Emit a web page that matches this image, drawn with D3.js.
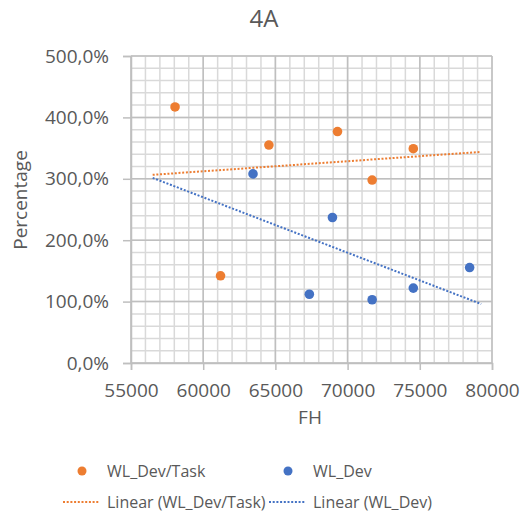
<!DOCTYPE html>
<html lang="en">
<head>
    <meta charset="UTF-8">
    <script src="https://d3js.org/d3.v7.min.js"></script>
    <title>4A</title>
    <style>
        body { margin: 0; background: #fff; }
        svg { display: block; font-family: "Open Sans", sans-serif; }
    </style>
</head>
<body>
    <svg id="chart" width="520" height="513"></svg>
    <script>
        // data
        const devTaskFH = [58050, 61200, 64550, 69300, 71700, 74550];
        const devTaskPct = [4.17, 1.42, 3.55, 3.77, 2.98, 3.49];
        const devFH = [63450, 68950, 67350, 71700, 74550, 78450];
        const devPct = [3.08, 2.37, 1.12, 1.03, 1.22, 1.555];
        const xTicks = [55000, 60000, 65000, 70000, 75000, 80000];
        const yTicks = [0, 1, 2, 3, 4, 5];
        const trendRange = [56500, 79250];
        const seriesNames = ["WL_Dev/Task", "WL_Dev"];

        const orange = "#ED7D31";
        const blue = "#4472C4";
        const textColor = "#595959";

        const svg = d3.select("#chart");
        const plotL = 131, plotR = 492, plotT = 56, plotB = 363;

        const x = d3.scaleLinear().domain([55000, 80000]).range([plotL, plotR]);
        const y = d3.scaleLinear().domain([0, 5]).range([plotB, plotT]);

        const locale = d3.formatLocale({ decimal: ",", thousands: ".", grouping: [3], currency: ["", "€"] });
        const pctFmt = locale.format(".1%");

        // minor grid
        const g = svg.append("g");
        g.selectAll(".vminor").data(d3.range(55000, 80001, 1000)).join("line")
            .attr("x1", d => x(d)).attr("x2", d => x(d))
            .attr("y1", plotT).attr("y2", plotB)
            .attr("stroke", "#d9d9d9").attr("stroke-width", 1.5);
        g.selectAll(".hminor").data(d3.range(0, 26).map(i => i * 0.2)).join("line")
            .attr("x1", plotL).attr("x2", plotR)
            .attr("y1", d => y(d)).attr("y2", d => y(d))
            .attr("stroke", "#d9d9d9").attr("stroke-width", 1.5);
        // major grid
        g.selectAll(".vmajor").data(xTicks).join("line")
            .attr("x1", d => x(d)).attr("x2", d => x(d))
            .attr("y1", plotT).attr("y2", plotB)
            .attr("stroke", "#bfbfbf").attr("stroke-width", 1.5);
        g.selectAll(".hmajor").data(yTicks).join("line")
            .attr("x1", plotL).attr("x2", plotR)
            .attr("y1", d => y(d)).attr("y2", d => y(d))
            .attr("stroke", "#bfbfbf").attr("stroke-width", 1.5);

        // axes
        const xAxis = svg.append("g")
            .attr("transform", `translate(0,${plotB})`)
            .call(d3.axisBottom(x).tickValues(xTicks).tickSize(7).tickPadding(14).tickFormat(d3.format("d")));
        const yAxis = svg.append("g")
            .attr("transform", `translate(${plotL},0)`)
            .call(d3.axisLeft(y).tickValues(yTicks).tickSize(8).tickPadding(14).tickFormat(pctFmt));
        [xAxis, yAxis].forEach(a => {
            a.select(".domain").attr("stroke", "#bfbfbf").attr("stroke-width", 1.5);
            a.selectAll(".tick line").attr("stroke", "#bfbfbf").attr("stroke-width", 1.5);
            a.selectAll("text").attr("fill", textColor)
                .style("font-family", "'Open Sans', sans-serif").style("font-size", "19px");
        });

        // linear trendlines (least squares)
        function fit(xs, ys) {
            const mx = d3.mean(xs), my = d3.mean(ys);
            const b = d3.sum(xs, (v, i) => (v - mx) * (ys[i] - my)) / d3.sum(xs, v => (v - mx) ** 2);
            return v => my + b * (v - mx);
        }
        const line = d3.line().x(d => x(d[0])).y(d => y(d[1]));
        [[devTaskFH, devTaskPct, orange], [devFH, devPct, blue]].forEach(([xs, ys, c]) => {
            const f = fit(xs, ys);
            svg.append("path")
                .datum(trendRange.map(v => [v, f(v)]))
                .attr("d", line)
                .attr("fill", "none")
                .attr("stroke", c)
                .attr("stroke-width", 2)
                .attr("stroke-dasharray", "2,1.7");
        });

        // points
        svg.selectAll(".pt-task").data(devTaskFH).join("circle")
            .attr("cx", d => x(d)).attr("cy", (d, i) => y(devTaskPct[i]))
            .attr("r", 4.8).attr("fill", orange);
        svg.selectAll(".pt-dev").data(devFH).join("circle")
            .attr("cx", d => x(d)).attr("cy", (d, i) => y(devPct[i]))
            .attr("r", 4.8).attr("fill", blue);

        // titles
        svg.append("text").attr("x", 264).attr("y", 27).attr("text-anchor", "middle")
            .attr("fill", textColor).style("font-size", "24px").text("4A");
        svg.append("text").attr("x", 310).attr("y", 424).attr("text-anchor", "middle")
            .attr("fill", textColor).style("font-size", "19px").text("FH");
        svg.append("text").attr("transform", "translate(27,200) rotate(-90)")
            .attr("text-anchor", "middle")
            .attr("fill", textColor).style("font-size", "19px").text("Percentage");

        // legend
        const legend = svg.append("g").style("font-size", "16px").attr("fill", textColor);
        const legX = [82, 288];
        [orange, blue].forEach((c, i) => {
            legend.append("circle").attr("cx", legX[i]).attr("cy", 471).attr("r", 4.5).attr("fill", c);
            legend.append("text").attr("x", legX[i] + 25).attr("y", 477).text(seriesNames[i]);
            legend.append("line")
                .attr("x1", legX[i] - 19).attr("x2", legX[i] + 17)
                .attr("y1", 502).attr("y2", 502)
                .attr("stroke", c).attr("stroke-width", 2).attr("stroke-dasharray", "2,1.7");
            legend.append("text").attr("x", legX[i] + 25).attr("y", 508)
                .text(`Linear (${seriesNames[i]})`);
        });
    </script>
</body>
</html>
